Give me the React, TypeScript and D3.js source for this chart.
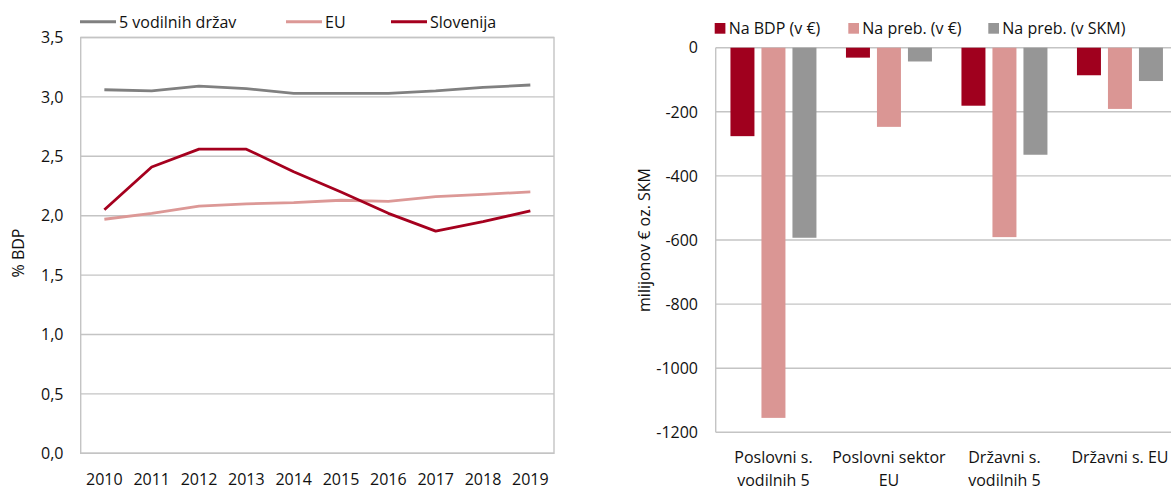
import React from "react";
import * as d3 from "d3";

const years = ["2010", "2011", "2012", "2013", "2014", "2015", "2016", "2017", "2018", "2019"];
const lineSeriesNames = ["5 vodilnih držav", "EU", "Slovenija"];
const vodilnih5 = [3.06, 3.05, 3.09, 3.07, 3.03, 3.03, 3.03, 3.05, 3.08, 3.1];
const euLine = [1.97, 2.02, 2.08, 2.1, 2.11, 2.13, 2.12, 2.16, 2.18, 2.2];
const slovenija = [2.05, 2.41, 2.56, 2.56, 2.37, 2.2, 2.02, 1.87, 1.95, 2.04];
const leftTicks = [0, 0.5, 1, 1.5, 2, 2.5, 3, 3.5];

const categories = ["Poslovni s.\nvodilnih 5", "Poslovni sektor\nEU", "Državni s.\nvodilnih 5", "Državni s. EU"];
const barSeriesNames = ["Na BDP (v €)", "Na preb. (v €)", "Na preb. (v SKM)"];
const naBDP = [-276, -31, -181, -86];
const naPreb = [-1155, -247, -591, -191];
const naPrebSKM = [-593, -43, -334, -104];
const rightTicks = [0, -200, -400, -600, -800, -1000, -1200];

const lineColors = ["#808080", "#dc9896", "#a5001e"];
const barColors = ["#a0001e", "#da9694", "#969696"];
const gridColor = "#c4c4c4";
const font = "'Open Sans', 'Noto Sans', sans-serif";

export default function App() {
  // Left chart
  const L = { left: 80.7, right: 554, top: 37.5, bottom: 453.3 };
  const x = d3.scalePoint<string>().domain(years).range([L.left, L.right]).padding(0.5);
  const y = d3.scaleLinear().domain([0, 3.5]).range([L.bottom, L.top]);
  const lineData = [vodilnih5, euLine, slovenija];
  const lineGen = d3
    .line<number>()
    .x((_, i) => x(years[i]) as number)
    .y((d) => y(d));

  // Right chart
  const R = { left: 715.7, right: 1177.7, top: 47.7, bottom: 432.3 };
  const x0 = d3.scaleBand<string>().domain(categories).range([R.left, R.right]);
  const x1 = d3
    .scaleBand<string>()
    .domain(barSeriesNames)
    .range([0, x0.bandwidth()])
    .paddingInner(0.226)
    .paddingOuter(0.476);
  const yr = d3.scaleLinear().domain([-1200, 0]).range([R.bottom, R.top]);
  const barData = [naBDP, naPreb, naPrebSKM];

  const leftLegendX = [80, 286, 391];

  return (
    <svg
      width={1171}
      height={486}
      style={{ position: "absolute", left: 0, top: 0, fontFamily: font, background: "#fff" }}
    >
      {/* LEFT CHART */}
      {leftTicks.map((t) => (
        <g key={"lt" + t}>
          <line x1={L.left} x2={L.right} y1={y(t)} y2={y(t)} stroke={gridColor} strokeWidth={1.4} />
          <text x={63.5} y={y(t)} dy="0.36em" textAnchor="end" fontSize={16} fill="#111">
            {t.toFixed(1).replace(".", ",")}
          </text>
        </g>
      ))}
      <rect
        x={L.left}
        y={L.top}
        width={L.right - L.left}
        height={L.bottom - L.top}
        fill="none"
        stroke={gridColor}
        strokeWidth={1.4}
      />
      {years.map((yr0) => (
        <text key={yr0} x={x(yr0)} y={485} textAnchor="middle" fontSize={16} fill="#111">
          {yr0}
        </text>
      ))}
      <text
        transform={`translate(24, 253) rotate(-90)`}
        textAnchor="middle"
        fontSize={16}
        fill="#111"
      >
        % BDP
      </text>
      {lineData.map((d, i) => (
        <path
          key={"ln" + i}
          d={lineGen(d) as string}
          fill="none"
          stroke={lineColors[i]}
          strokeWidth={2.8}
          strokeLinejoin="round"
        />
      ))}
      {lineSeriesNames.map((n, i) => (
        <g key={"ll" + n}>
          <line
            x1={leftLegendX[i]}
            x2={leftLegendX[i] + 36}
            y1={21.7}
            y2={21.7}
            stroke={lineColors[i]}
            strokeWidth={3}
          />
          <text x={leftLegendX[i] + 39} y={28.3} fontSize={16} fill="#111">
            {n}
          </text>
        </g>
      ))}

      {/* RIGHT CHART */}
      {rightTicks.map((t) => (
        <g key={"rt" + t}>
          <line x1={R.left} x2={R.right} y1={yr(t)} y2={yr(t)} stroke={gridColor} strokeWidth={1.4} />
          <text x={698} y={yr(t)} dy="0.36em" textAnchor="end" fontSize={16} fill="#111">
            {t}
          </text>
        </g>
      ))}
      <line x1={R.left} x2={R.left} y1={R.top} y2={R.bottom} stroke={gridColor} strokeWidth={1.4} />
      {categories.map((c, ci) => (
        <g key={"cat" + c}>
          {barSeriesNames.map((s, si) => {
            const v = barData[si][ci];
            return (
              <rect
                key={s}
                x={(x0(c) as number) + (x1(s) as number)}
                y={yr(0)}
                width={x1.bandwidth()}
                height={yr(v) - yr(0)}
                fill={barColors[si]}
              />
            );
          })}
          {c.split("\n").map((line, li) => (
            <text
              key={li}
              x={(x0(c) as number) + x0.bandwidth() / 2}
              y={463.3 + li * 22.5}
              textAnchor="middle"
              fontSize={16}
              fill="#111"
            >
              {line}
            </text>
          ))}
        </g>
      ))}
      <text
        transform={`translate(650, 240) rotate(-90)`}
        textAnchor="middle"
        fontSize={16}
        fill="#111"
      >
        milijonov € oz. SKM
      </text>
      {barSeriesNames.map((n, i) => {
        const lx = [714.7, 848.3, 988.3][i];
        return (
          <g key={"bl" + n}>
            <rect x={lx} y={23} width={10.7} height={10.7} fill={barColors[i]} />
            <text x={lx + 14} y={33.5} fontSize={16} fill="#111">
              {n}
            </text>
          </g>
        );
      })}
    </svg>
  );
}
